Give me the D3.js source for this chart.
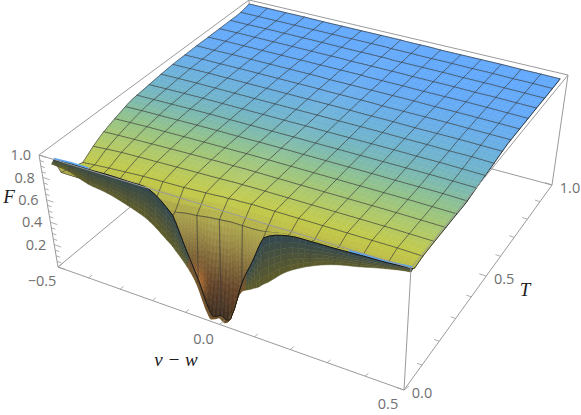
<!DOCTYPE html>
<html>
<head>
<meta charset="utf-8">
<script src="https://cdn.jsdelivr.net/npm/d3@7"></script>
<style>
html, body { margin: 0; padding: 0; background: #fff; }
svg { display: block; }
.tick-label { font-family: "Open Sans", sans-serif; font-size: 14.5px; fill: #6f6f6f; }
.axis-title { font-family: "Liberation Serif", serif; font-style: italic; font-size: 19px; fill: #1c1c1c; }
</style>
</head>
<body>
<svg id="chart"></svg>
<script>
// Configuration
const width = 581;
const height = 415;

// Box corners on screen, [x=-0.5,T=0], [x=0.5,T=0], [x=0.5,T=1], [x=-0.5,T=1]
const bottomCorners = [[58, 267], [404, 390], [552, 185], [253, 105]];
const topCorners = [[39, 155], [411, 268], [568, 75], [249, 0]];

// Surface sample positions
const xGrid = [-0.5, -0.4375, -0.375, -0.3125, -0.25, -0.1875, -0.125, -0.09375, -0.0625, -0.03125, -0.015625, 0,
    0.015625, 0.03125, 0.0625, 0.09375, 0.125, 0.1875, 0.25, 0.3125, 0.375, 0.4375, 0.5];
const tGrid = [0, 0.01, 0.02, 0.0625, 0.125, 0.1875, 0.25, 0.3125, 0.375, 0.4375, 0.5, 0.5625, 0.625, 0.6875, 0.75, 0.8125, 0.875, 0.9375, 1];

// F, one list per T value
const fLow = [.95, .93, .87, .84, .785, .705, .55, .44, .295, .045, .03, .055, .03, .09, .33, .40, .47, .64, .755, .833, .88, .93, .967];
const fRidge = [.97, .98, .98, .985, .98, .965, .8, .54, .305, .05, .035, .06, .035, .095, .40, .62, .85, .93, .943, .946, .955, .96, .975];
const fTrench = [.85, .85, .85, .85, .84, .81, .81, .83, .84, .855, .86, .865, .87, .875, .875, .875, .885, .92, .93, .935, .945, .95, .96];
const fT01 = [.90, .91, .92, .93, .94, .945, .95, .955, .96, .965, .97, .97, .975, .975, .98, .98, .98, .98, .98, .98, .98, .98, .975];
const fT02 = [.93, .94, .95, .955, .96, .965, .97, .972, .975, .978, .98, .98, .98, .982, .982, .982, .982, .982, .982, .982, .982, .98, .978];
const fT03 = [.95, .955, .96, .965, .97, .975, .978, .98, .98, .982, .982, .982, .982, .982, .982, .982, .982, .982, .982, .982, .982, .98, .978];
const fT04 = [.96, .965, .97, .972, .975, .978, .98, .98, .982, .982, .982, .982, .982, .982, .982, .982, .982, .982, .982, .982, .982, .98, .978];
const fT05 = [.965, .97, .972, .975, .978, .98, .98, .98, .982, .982, .982, .982, .982, .982, .982, .982, .982, .982, .982, .98, .98, .98, .975];
const fT06 = [.97, .972, .975, .978, .98, .98, .98, .98, .98, .98, .98, .98, .98, .98, .98, .98, .98, .98, .98, .98, .98, .978, .975];
const fT07 = [.972, .975, .978, .98, .98, .98, .98, .98, .98, .98, .98, .98, .98, .98, .98, .98, .98, .98, .98, .978, .978, .975, .972];
const fT08 = [.975, .978, .98, .98, .98, .98, .98, .98, .98, .98, .98, .98, .98, .98, .98, .98, .98, .98, .978, .978, .975, .975, .97];
const fT09 = [.975, .978, .98, .98, .98, .98, .98, .98, .98, .98, .98, .98, .98, .98, .98, .978, .978, .978, .975, .975, .975, .972, .97];
const fT10 = [.975, .978, .978, .98, .98, .98, .98, .98, .98, .978, .978, .978, .978, .978, .978, .978, .975, .975, .975, .975, .972, .97, .968];
const fT11 = [.975, .975, .978, .978, .978, .978, .978, .978, .975, .975, .975, .975, .975, .975, .975, .975, .975, .975, .972, .972, .97, .968, .965];
const fT12 = [.972, .975, .975, .975, .975, .975, .975, .975, .975, .975, .975, .975, .972, .972, .972, .972, .972, .97, .97, .97, .968, .965, .962];
const fT13 = [.97, .972, .972, .972, .972, .972, .972, .972, .97, .97, .97, .97, .97, .97, .97, .97, .968, .968, .968, .965, .965, .962, .96];
const fT14 = [.968, .968, .97, .97, .97, .97, .968, .968, .968, .968, .968, .968, .968, .965, .965, .965, .965, .965, .962, .962, .96, .958, .955];
const fT15 = [.965, .965, .965, .965, .965, .965, .965, .965, .965, .965, .965, .962, .962, .962, .962, .96, .96, .96, .958, .958, .955, .955, .952];
const fT16 = [.962, .962, .962, .962, .96, .96, .96, .96, .96, .96, .96, .96, .958, .958, .958, .958, .955, .955, .955, .955, .952, .952, .95];
const surfaceRows = [fLow, fRidge, fTrench, fT01, fT02, fT03, fT04, fT05, fT06, fT07, fT08, fT09, fT10, fT11, fT12, fT13, fT14, fT15, fT16];

// Where the surface really stops inside the box
const leftEdgeT = [0, 0.01, 0.0625, 0.16, 0.34, 0.56, 0.93, 1];
const leftEdgeX = [-0.465, -0.465, -0.42, -0.44, -0.47, -0.483, -0.49, -0.5];
const rightEdgeT = [0, 0.3, 0.6, 1];
const rightEdgeX = [0.5, 0.5, 0.485, 0.48];

// Colours
const surfaceT = [0, 0.0625, 0.15, 0.25, 0.35, 0.45, 0.6, 0.75, 1];
const surfaceColors = ['#c4cb44', '#c2ca4a', '#b0c968', '#95c386', '#7cb9ad', '#70b4cc', '#69aee8', '#64aaf8', '#63a9fd'];
const trenchF = [0.02, 0.1, 0.3, 0.5, 0.7, 0.87, 0.95];
const trenchColors = ['#3a2a1c', '#43301f', '#5e4026', '#7d6536', '#9b8c45', '#aea94c', '#bcbc48'];
const wallColors = ['#5a5a2c', '#2f4652'];

// Ticks
const fTicks = [0, .05, .1, .15, .2, .25, .3, .35, .4, .45, .5, .55, .6, .65, .7, .75, .8, .85, .9, .95, 1];
const fLabels = [0.2, 0.4, 0.6, 0.8, 1.0];
const xTicks = [-.5, -.4, -.3, -.2, -.1, 0, .1, .2, .3, .4, .5];
const xLabels = [-0.5, 0, 0.5];
const tTicks = [0, .1, .2, .3, .4, .5, .6, .7, .8, .9, 1];
const tLabels = [0, 0.5, 1.0];

const svg = d3.select("#chart").attr("width", width).attr("height", height);

// Square to quad mapping (unit square -> corners)
function quadMap(c) {
    const [x0, y0] = c[0], [x1, y1] = c[1], [x2, y2] = c[2], [x3, y3] = c[3];
    const dx1 = x1 - x2, dx2 = x3 - x2, sx = x0 - x1 + x2 - x3;
    const dy1 = y1 - y2, dy2 = y3 - y2, sy = y0 - y1 + y2 - y3;
    const den = dx1 * dy2 - dx2 * dy1;
    const g = (sx * dy2 - dx2 * sy) / den;
    const h = (dx1 * sy - sx * dy1) / den;
    const a = x1 - x0 + g * x1, b = x3 - x0 + h * x3;
    const d = y1 - y0 + g * y1, e = y3 - y0 + h * y3;
    return (u, v) => {
        const w = g * u + h * v + 1;
        return [(a * u + b * v + x0) / w, (d * u + e * v + y0) / w];
    };
}
const mapBottom = quadMap(bottomCorners);
const mapTop = quadMap(topCorners);
const uScale = d3.scaleLinear().domain([-0.5, 0.5]).range([0, 1]);

function project(x, t, f) {
    const a = mapBottom(uScale(x), t), b = mapTop(uScale(x), t);
    return [a[0] + (b[0] - a[0]) * f, a[1] + (b[1] - a[1]) * f];
}

const leftEdge = d3.scaleLinear().domain(leftEdgeT).range(leftEdgeX);
const rightEdge = d3.scaleLinear().domain(rightEdgeT).range(rightEdgeX);
function surfaceX(x, t) {
    const k = Math.pow(Math.abs(x) / 0.5, 3);
    return x < 0 ? x + (leftEdge(t) + 0.5) * k : x + (rightEdge(t) - 0.5) * k;
}
function surfacePoint(x, t, f) {
    return project(surfaceX(x, t), t, f);
}

// Catmull-Rom along one row, col is a fractional index
function rowValue(row, col) {
    const i = Math.min(Math.floor(col), row.length - 2), m = col - i;
    const p0 = row[Math.max(i - 1, 0)], p1 = row[i], p2 = row[i + 1], p3 = row[Math.min(i + 2, row.length - 1)];
    const v = 0.5 * (2 * p1 + (p2 - p0) * m + (2 * p0 - 5 * p1 + 4 * p2 - p3) * m * m + (3 * p1 - p0 - 3 * p2 + p3) * m * m * m);
    return Math.max(Math.min(p1, p2) - 0.02, Math.min(Math.max(p1, p2) + 0.02, v));
}

const colSub = 4;
const fineCols = [];
for (let i = 0; i < xGrid.length - 1; i++) {
    for (let j = 0; j < colSub; j++) fineCols.push({ col: i + j / colSub, x: xGrid[i] + (xGrid[i + 1] - xGrid[i]) * j / colSub, mesh: j === 0 && Number.isInteger(xGrid[i] * 16) });
}
fineCols.push({ col: xGrid.length - 1, x: 0.5, mesh: false });

const fineRows = [];
tGrid.forEach((t, r) => {
    if (r === tGrid.length - 1) {
        fineRows.push({ r, m: 0, t, mesh: false });
        return;
    }
    const sub = r === 0 ? 6 : (r === 1 ? 14 : 3);
    for (let j = 0; j < sub; j++) {
        fineRows.push({ r, m: j / sub, t: t + (tGrid[r + 1] - t) * j / sub, mesh: j === 0 && r >= 2 });
    }
});

function fineValue(row, col) {
    const a = rowValue(surfaceRows[row.r], col);
    if (row.m === 0) return a;
    return a + (rowValue(surfaceRows[row.r + 1], col) - a) * row.m;
}

const baseColor = d3.scaleLinear().domain(surfaceT).range(surfaceColors).interpolate(d3.interpolateRgb);
const trenchColor = d3.scaleLinear().domain(trenchF).range(trenchColors).clamp(true);
const wallColor = d3.scaleLinear().domain([0, 1]).range(wallColors);

function xIndex(x) {
    let i = d3.bisectRight(xGrid, x) - 1;
    i = Math.min(i, xGrid.length - 2);
    return i + (x - xGrid[i]) / (xGrid[i + 1] - xGrid[i]);
}

function quadColor(x, t, f, r, m) {
    if (r === 0) {
        // outer wall below the ridge
        const top = rowValue(fRidge, xIndex(x));
        const c = wallColor(m);
        return top < 0.5 ? d3.interpolateRgb(c, '#7a5028')(0.7) : c;
    }
    if (t >= 0.0625) return baseColor(t);
    const ramp = d3.scaleLinear().domain([0.02, 0.0625]).range([0, 1]).clamp(true)(t);
    let c = trenchColor(f);
    const left = Math.exp(-Math.pow((x + 0.06) / 0.02, 2) - Math.pow((f - 0.28) / 0.13, 2));
    const right = Math.exp(-Math.pow((x - 0.055) / 0.02, 2) - Math.pow((f - 0.2) / 0.12, 2));
    c = d3.interpolateRgb(c, '#c87c36')(0.7 * left);
    c = d3.interpolateRgb(c, '#7e4a28')(0.5 * right);
    return d3.interpolateRgb(c, baseColor(t))(ramp);
}

const pathOf = pts => "M" + pts.map(p => p[0].toFixed(2) + "," + p[1].toFixed(2)).join("L");
const boxLine = d3.line();

// Back box edges
const boxBack = svg.append("g").attr("fill", "none").attr("stroke", "#9a9a9a").attr("stroke-width", 1);
[
    [[-.5, 0, 0], [-.5, 1, 0]], [[-.5, 1, 0], [.5, 1, 0]], [[.5, 1, 0], [.5, 1, 1]],
    [[-.5, 0, 1], [-.5, 1, 1]], [[-.5, 1, 1], [.5, 1, 1]], [[-.5, 1, 0], [-.5, 1, 1]]
].forEach(e => boxBack.append("path").attr("d", boxLine(e.map(p => project(...p)))));

// Surface, painted from the back corner forward, mesh goes in with its quad
const surface = svg.append("g");
const rowPts = fineRows.map(row => fineCols.map(c => {
    const f = fineValue(row, c.col);
    return { f, p: surfacePoint(c.x, row.t, f) };
}));

for (let j = fineRows.length - 2; j >= 0; j--) {
    for (let i = 0; i < fineCols.length - 1; i++) {
        const a = rowPts[j][i], b = rowPts[j][i + 1], c = rowPts[j + 1][i + 1], d = rowPts[j + 1][i];
        const row = fineRows[j];
        const fill = quadColor((fineCols[i].x + fineCols[i + 1].x) / 2, (row.t + fineRows[j + 1].t) / 2, (a.f + b.f + c.f + d.f) / 4, row.r, row.m);
        surface.append("path")
            .attr("d", pathOf([a.p, b.p, c.p, d.p]) + "Z")
            .attr("fill", fill).attr("stroke", fill).attr("stroke-width", 0.5);
        if (fineRows[j + 1].mesh) {
            surface.append("path").attr("d", pathOf([d.p, c.p]))
                .attr("fill", "none").attr("stroke", "#3a3a3a").attr("stroke-opacity", 0.85)
                .attr("stroke-width", 0.8).attr("stroke-linecap", "round");
        }
        if (fineCols[i].mesh && i > 0) {
            surface.append("path").attr("d", pathOf([a.p, d.p]))
                .attr("fill", "none").attr("stroke", "#3a3a3a")
                .attr("stroke-opacity", row.r === 0 ? 0.4 : 0.85)
                .attr("stroke-width", 0.8).attr("stroke-linecap", "round");
        }
    }
}

// Surface outline
const ridgeRow = fineRows.findIndex(r => r.r === 1);
const outline = svg.append("g").attr("fill", "none");
const leftSide = rowPts.slice(ridgeRow).map(r => r[0].p);
const rightSide = rowPts.map(r => r[r.length - 1].p);
const backSide = rowPts[rowPts.length - 1].map(d => d.p);
outline.append("path").attr("d", pathOf(leftSide)).attr("stroke", "#444").attr("stroke-width", 0.7);
outline.append("path").attr("d", pathOf(rightSide)).attr("stroke", "#222").attr("stroke-width", 0.9);
outline.append("path").attr("d", pathOf(backSide)).attr("stroke", "#333").attr("stroke-width", 0.7);

// Ridge line with the blue tips
const ridgePts = rowPts[ridgeRow].map(d => d.p);
const tipLeft = ridgePts.filter((p, i) => fineCols[i].x <= -0.37);
const tipRight = ridgePts.filter((p, i) => fineCols[i].x >= 0.34);
[tipLeft, tipRight].forEach(tip => {
    outline.append("path").attr("d", pathOf(tip.map(p => [p[0], p[1] - 1.2])))
        .attr("stroke", "#5aa6f2").attr("stroke-width", 2);
});
outline.append("path").attr("d", pathOf(ridgePts)).attr("stroke", "#161616").attr("stroke-width", 1);

// Front box edges
const boxFront = svg.append("g").attr("fill", "none").attr("stroke", "#9a9a9a").attr("stroke-width", 1);
[
    [[-.5, 0, 0], [.5, 0, 0]], [[.5, 0, 0], [.5, 1, 0]], [[-.5, 0, 0], [-.5, 0, 1]],
    [[.5, 0, 0], [.5, 0, 1]], [[.5, 0, 1], [.5, 1, 1]], [[-.5, 0, 1], [.5, 0, 1]]
].forEach(e => boxFront.append("path").attr("d", boxLine(e.map(p => project(...p)))));

// Ticks
const ticks = svg.append("g").attr("fill", "none").attr("stroke", "#9a9a9a").attr("stroke-width", 0.8);
function addTick(base, dx, dy) {
    ticks.append("path").attr("d", boxLine([base, [base[0] + dx, base[1] + dy]]));
}
fTicks.forEach(v => {
    const major = fLabels.includes(v) || v === 0;
    addTick(project(-.5, 0, v), major ? 7 : 4, major ? 2.4 : 1.4);
});
xTicks.forEach(v => {
    const major = xLabels.includes(v);
    addTick(project(v, 0, 0), major ? 5 : 3.4, major ? -4 : -2.8);
});
tTicks.forEach(v => {
    const major = tLabels.includes(v);
    addTick(project(.5, v, 0), major ? -7 : -5, major ? -2.4 : -1.7);
});

// Tick labels
const labels = svg.append("g");
const fmt = v => (v < 0 ? "\u2212" : "") + Math.abs(v).toFixed(1);
fLabels.forEach(v => {
    const p = project(-.5, 0, v);
    labels.append("text").attr("class", "tick-label").attr("x", p[0] - 8).attr("y", p[1])
        .attr("text-anchor", "end").attr("dy", "0.36em").text(fmt(v));
});
xLabels.forEach(v => {
    const p = project(v, 0, 0);
    labels.append("text").attr("class", "tick-label").attr("x", p[0] - 16).attr("y", p[1] + 14)
        .attr("text-anchor", "middle").attr("dy", "0.36em").text(fmt(v));
});
tLabels.forEach(v => {
    const p = project(.5, v, 0);
    labels.append("text").attr("class", "tick-label").attr("x", p[0] + 18).attr("y", p[1] + 3)
        .attr("text-anchor", "middle").attr("dy", "0.36em").text(fmt(v));
});

// Axis titles
const titles = [["F", 9, 197], ["T", 525, 290], ["v \u2212 w", 176, 360]];
titles.forEach(d => {
    svg.append("text").attr("class", "axis-title").attr("x", d[1]).attr("y", d[2])
        .attr("text-anchor", "middle").attr("dy", "0.32em").text(d[0]);
});
</script>
</body>
</html>
